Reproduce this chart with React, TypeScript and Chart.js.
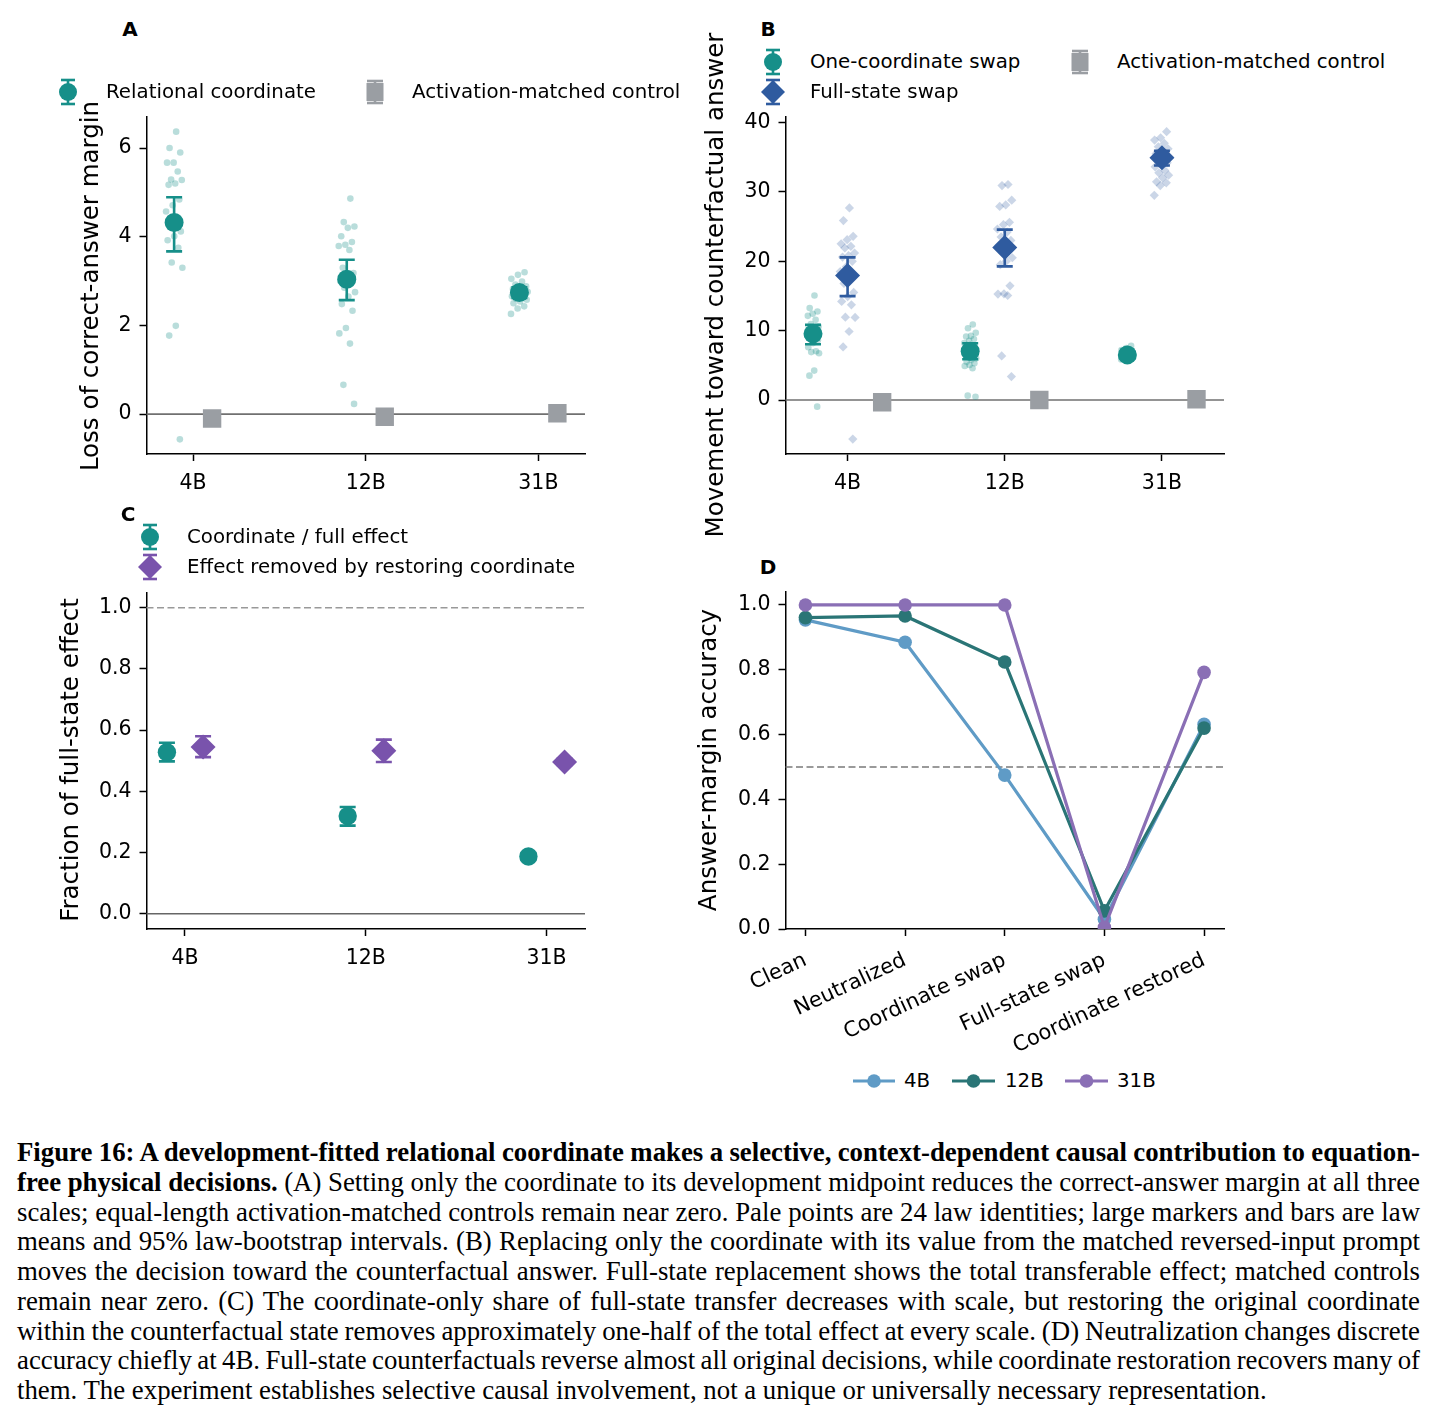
import React, { useEffect, useLayoutEffect, useRef } from 'react';
import { Chart, registerables } from 'chart.js';

Chart.register(...registerables);

// ---------------- data ----------------
const modelScales = ['4B', '12B', '31B'];
const conditionsD = ['Clean', 'Neutralized', 'Coordinate swap', 'Full-state swap', 'Coordinate restored'];

// Panel A: loss of correct-answer margin (24 law identities per scale)
const aRelational4B = [6.37, 6.0, 5.9, 5.67, 5.67, 5.47, 5.29, 5.28, 5.2, 5.17, 4.84, 4.71, 4.57, 4.45, 4.3, 4.12, 4.01, 3.92, 3.75, 3.42, 3.3, 1.99, 1.77, -0.57];
const aRelational12B = [4.86, 4.33, 4.23, 4.2, 4.01, 3.88, 3.82, 3.79, 3.7, 3.3, 3.18, 3.1, 3.0, 2.95, 2.85, 2.75, 2.65, 2.48, 2.33, 1.94, 1.82, 1.59, 0.66, 0.23];
const aRelational31B = [3.2, 3.14, 3.05, 2.99, 2.92, 2.88, 2.85, 2.82, 2.8, 2.78, 2.76, 2.74, 2.72, 2.7, 2.68, 2.66, 2.64, 2.6, 2.58, 2.54, 2.5, 2.43, 2.38, 2.26];
const aRelationalMean = [4.32, 3.04, 2.74];
const aRelationalLow = [3.67, 2.57, 2.62];
const aRelationalHigh = [4.89, 3.48, 2.86];
const aControlMean = [-0.1, -0.06, 0.02];
const aControlLow = [-0.14, -0.1, -0.01];
const aControlHigh = [-0.06, -0.02, 0.05];
const aYTicks = [0, 2, 4, 6];

// Panel B: movement toward counterfactual answer
const bOneCoord4B = [15.06, 13.24, 12.75, 12.42, 12.13, 11.55, 10.93, 10.6, 10.3, 10.0, 9.8, 9.5, 9.3, 9.1, 8.9, 8.6, 8.2, 7.6, 7.03, 6.9, 6.74, 4.24, 3.51, -0.96];
const bOneCoord12B = [10.88, 10.35, 9.7, 9.24, 9.15, 8.8, 8.52, 8.2, 7.9, 7.6, 7.3, 7.0, 6.8, 6.6, 6.3, 6.0, 5.8, 5.5, 5.29, 5.05, 4.9, 4.57, 0.63, 0.48];
const bOneCoord31B = [7.8, 7.5, 7.2, 7.0, 6.9, 6.8, 6.7, 6.6, 6.6, 6.55, 6.5, 6.45, 6.4, 6.35, 6.3, 6.25, 6.2, 6.15, 6.1, 6.05, 6.0, 5.95, 5.9, 5.85];
const bFullState4B = [27.68, 25.85, 23.59, 23.1, 22.5, 22.14, 21.9, 21.18, 20.8, 20.6, 19.98, 19.2, 18.5, 17.6, 16.8, 15.5, 14.9, 14.2, 13.72, 11.94, 11.9, 9.87, 7.65, -5.63];
const bFullState12B = [31.05, 30.9, 28.79, 28.11, 27.9, 25.6, 25.27, 24.64, 24.2, 23.5, 23.0, 22.6, 22.3, 21.8, 21.18, 20.5, 20.0, 19.5, 16.46, 15.3, 15.26, 15.06, 6.35, 3.37];
const bFullState31B = [38.66, 37.79, 37.45, 37.0, 36.49, 36.2, 35.86, 35.5, 35.3, 35.2, 35.0, 34.8, 34.5, 34.18, 34.0, 33.6, 33.07, 32.73, 32.4, 32.01, 31.44, 31.29, 30.9, 29.5];
const bOneCoordMean = [9.53, 7.03, 6.5];
const bOneCoordLow = [8.04, 5.87, 6.05];
const bOneCoordHigh = [10.83, 8.18, 6.95];
const bFullStateMean = [17.95, 21.99, 34.9];
const bFullStateLow = [14.97, 19.25, 33.8];
const bFullStateHigh = [20.55, 24.55, 35.9];
const bControlMean = [-0.33, 0.0, 0.1];
const bControlLow = [-0.6, -0.25, -0.15];
const bControlHigh = [-0.06, 0.25, 0.35];
const bYTicks = [0, 10, 20, 30, 40];

// Panel C: fraction of full-state effect
const cCoordFullMean = [0.528, 0.319, 0.187];
const cCoordFullLow = [0.498, 0.288, 0.176];
const cCoordFullHigh = [0.559, 0.349, 0.198];
const cRestoreMean = [0.545, 0.533, 0.496];
const cRestoreLow = [0.512, 0.496, 0.486];
const cRestoreHigh = [0.58, 0.569, 0.506];
const cYTicks = [0, 0.2, 0.4, 0.6, 0.8, 1.0];

// Panel D: answer-margin accuracy
const dAcc4B = [0.954, 0.885, 0.475, 0.03, 0.632];
const dAcc12B = [0.961, 0.966, 0.824, 0.056, 0.62];
const dAcc31B = [1.0, 1.0, 1.0, 0.005, 0.792];
const dYTicks = [0, 0.2, 0.4, 0.6, 0.8, 1.0];

// ---------------- styles ----------------
const FONT = "'DejaVu Sans', 'Noto Sans', sans-serif";
const TICK_FS = 20.5;
const LEGEND_FS = 19.8;
const TITLE_FS = 24.5;
const TEAL = '#168f89';
const TEAL_PALE = 'rgba(22,143,137,0.30)';
const GRAY = '#9a9ea3';
const BLUE = '#2f5b9f';
const BLUE_PALE = 'rgba(47,91,159,0.25)';
const PURPLE = '#7953ac';
const D4 = '#5f9bc6';
const D12 = '#2a7576';
const D31 = '#8a6fb5';

const tickFont = { family: FONT, size: TICK_FS, lineHeight: 1.2 };
const dTickFont = { family: FONT, size: 21, lineHeight: 1.2 };

// deterministic horizontal spread for strip points
const spread = (i: number, amp: number) => ((((i + 1) * 0.6180339887) % 1) - 0.5) * 2 * amp;

function stripPoints(groups: number[][], offset: number, amp: number) {
  const pts: { x: number; y: number }[] = [];
  groups.forEach((vals, g) => vals.forEach((v, i) => pts.push({ x: g + offset + spread(i + g * 5, amp), y: v })));
  return pts;
}
function meanPoints(vals: number[], offset: number) {
  return vals.map((v, g) => ({ x: g + offset, y: v }));
}

const errorBarPlugin = {
  id: 'errorBars',
  beforeDatasetDraw(chart: any, args: any) {
    const ds = chart.data.datasets[args.index];
    if (!ds.errLow) return;
    const { ctx } = chart;
    const x = chart.scales.x;
    const y = chart.scales.y;
    ctx.save();
    ctx.strokeStyle = ds.errColor;
    ctx.lineWidth = ds.errWidth || 2.5;
    const cap = ds.errCap || 8;
    ds.data.forEach((p: any, i: number) => {
      const px = x.getPixelForValue(p.x);
      const y1 = y.getPixelForValue(ds.errLow[i]);
      const y2 = y.getPixelForValue(ds.errHigh[i]);
      ctx.beginPath();
      ctx.moveTo(px, y1);
      ctx.lineTo(px, y2);
      ctx.moveTo(px - cap, y1);
      ctx.lineTo(px + cap, y1);
      ctx.moveTo(px - cap, y2);
      ctx.lineTo(px + cap, y2);
      ctx.stroke();
    });
    ctx.restore();
  },
};

const refLinePlugin = {
  id: 'refLines',
  beforeDatasetsDraw(chart: any, _args: any, opts: any) {
    const lines = (opts && opts.lines) || [];
    const { ctx, chartArea } = chart;
    const y = chart.scales.y;
    lines.forEach((l: any) => {
      const py = y.getPixelForValue(l.value);
      ctx.save();
      ctx.strokeStyle = l.color;
      ctx.lineWidth = l.width;
      ctx.setLineDash(l.dash || []);
      ctx.beginPath();
      ctx.moveTo(chartArea.left, py);
      ctx.lineTo(chartArea.right, py);
      ctx.stroke();
      ctx.restore();
    });
  },
};

function xAxis(min: number, max: number, labels: string[], height: number, rotation = 0, font: any = tickFont, pad = 10) {
  return {
    type: 'linear',
    position: 'bottom',
    min,
    max,
    afterBuildTicks: (s: any) => {
      s.ticks = labels.map((_l, i) => ({ value: i }));
    },
    afterFit: (s: any) => {
      s.height = height;
      s.paddingLeft = 0;
      s.paddingRight = 0;
      s.paddingTop = 0;
      s.paddingBottom = 0;
    },
    ticks: {
      callback: (_v: any, i: number) => labels[i],
      font,
      color: '#000',
      padding: pad,
      autoSkip: false,
      minRotation: rotation,
      maxRotation: rotation,
    },
    grid: { drawOnChartArea: false, drawTicks: true, tickLength: 7, tickWidth: 1.5, tickColor: '#000' },
    border: { display: true, color: '#000', width: 1.5 },
  };
}

function yAxis(min: number, max: number, ticks: number[], fmt: (v: number) => string, width: number) {
  return {
    type: 'linear',
    position: 'left',
    min,
    max,
    afterBuildTicks: (s: any) => {
      s.ticks = ticks.map((v) => ({ value: v }));
    },
    afterFit: (s: any) => {
      s.width = width;
      s.paddingLeft = 0;
      s.paddingRight = 0;
      s.paddingTop = 0;
      s.paddingBottom = 0;
    },
    ticks: { callback: (v: any) => fmt(Number(v)), font: tickFont, color: '#000', padding: 8 },
    grid: { drawOnChartArea: false, drawTicks: true, tickLength: 7, tickWidth: 1.5, tickColor: '#000' },
    border: { display: true, color: '#000', width: 1.5 },
  };
}

function baseOptions(padding: any, scales: any, lines: any[]) {
  return {
    responsive: false,
    animation: false,
    devicePixelRatio: 1,
    layout: { padding },
    plugins: { legend: { display: false }, tooltip: { enabled: false }, refLines: { lines } },
    scales,
    events: [],
  };
}

function configA() {
  return {
    type: 'scatter',
    data: {
      datasets: [
        { data: stripPoints([aRelational4B, aRelational12B, aRelational31B], -0.11, 0.05), backgroundColor: TEAL_PALE, pointRadius: 3.3, pointBorderWidth: 0, order: 10 },
        { data: meanPoints(aRelationalMean, -0.11), backgroundColor: TEAL, pointRadius: 9.5, pointBorderWidth: 0, order: 2, errLow: aRelationalLow, errHigh: aRelationalHigh, errColor: TEAL, errWidth: 2.6, errCap: 8 },
        { data: meanPoints(aControlMean, 0.11), backgroundColor: GRAY, pointStyle: 'rect', pointRadius: 13, pointBorderWidth: 0, order: 1, errLow: aControlLow, errHigh: aControlHigh, errColor: GRAY, errWidth: 2.6, errCap: 8 },
      ],
    },
    options: baseOptions(
      { left: 0, right: 15, top: 17, bottom: 0 },
      {
        x: xAxis(-0.27, 2.27, modelScales, 66),
        y: yAxis(-0.9, 6.7, aYTicks, (v) => String(v), 146.5),
      },
      [{ value: 0, color: '#707070', width: 1.6 }]
    ),
    plugins: [errorBarPlugin, refLinePlugin],
  };
}

function configB() {
  return {
    type: 'scatter',
    data: {
      datasets: [
        { data: stripPoints([bOneCoord4B, bOneCoord12B, bOneCoord31B], -0.22, 0.04), backgroundColor: TEAL_PALE, pointRadius: 3.3, pointBorderWidth: 0, order: 10 },
        { data: stripPoints([bFullState4B, bFullState12B, bFullState31B], 0, 0.05), backgroundColor: BLUE_PALE, pointStyle: 'rectRot', pointRadius: 4.6, pointBorderWidth: 0, order: 9 },
        { data: meanPoints(bOneCoordMean, -0.22), backgroundColor: TEAL, pointRadius: 9.5, pointBorderWidth: 0, order: 3, errLow: bOneCoordLow, errHigh: bOneCoordHigh, errColor: TEAL, errWidth: 2.6, errCap: 8 },
        { data: meanPoints(bFullStateMean, 0), backgroundColor: BLUE, pointStyle: 'rectRot', pointRadius: 12.5, pointBorderWidth: 0, order: 2, errLow: bFullStateLow, errHigh: bFullStateHigh, errColor: BLUE, errWidth: 2.6, errCap: 8 },
        { data: meanPoints(bControlMean, 0.22), backgroundColor: GRAY, pointStyle: 'rect', pointRadius: 13, pointBorderWidth: 0, order: 1, errLow: bControlLow, errHigh: bControlHigh, errColor: GRAY, errWidth: 2.6, errCap: 8 },
      ],
    },
    options: baseOptions(
      { left: 0, right: 16, top: 17, bottom: 0 },
      {
        x: xAxis(-0.395, 2.395, modelScales, 66),
        y: yAxis(-7.78, 40.78, bYTicks, (v) => String(v), 145.5),
      },
      [{ value: 0, color: '#707070', width: 1.6 }]
    ),
    plugins: [errorBarPlugin, refLinePlugin],
  };
}

function configC() {
  return {
    type: 'scatter',
    data: {
      datasets: [
        { data: meanPoints(cCoordFullMean, -0.1), backgroundColor: TEAL, pointRadius: 9.2, pointBorderWidth: 0, order: 2, errLow: cCoordFullLow, errHigh: cCoordFullHigh, errColor: TEAL, errWidth: 2.6, errCap: 8 },
        { data: meanPoints(cRestoreMean, 0.1), backgroundColor: PURPLE, pointStyle: 'rectRot', pointRadius: 12.5, pointBorderWidth: 0, order: 1, errLow: cRestoreLow, errHigh: cRestoreHigh, errColor: PURPLE, errWidth: 2.6, errCap: 8 },
      ],
    },
    options: baseOptions(
      { left: 0, right: 15, top: 12, bottom: 0 },
      {
        x: xAxis(-0.213, 2.213, modelScales, 71),
        y: yAxis(-0.05, 1.05, cYTicks, (v) => v.toFixed(1), 146.5),
      },
      [
        { value: 0, color: '#666666', width: 1.6 },
        { value: 1, color: '#999999', width: 1.6, dash: [7, 3.5] },
      ]
    ),
    plugins: [errorBarPlugin, refLinePlugin],
  };
}

function lineSeries(vals: number[], color: string, order: number) {
  return {
    data: vals.map((v, i) => ({ x: i, y: v })),
    showLine: true,
    borderColor: color,
    borderWidth: 3.2,
    backgroundColor: color,
    pointBackgroundColor: color,
    pointRadius: 6.8,
    pointBorderWidth: 0,
    order,
  };
}

function configD() {
  return {
    type: 'scatter',
    data: {
      datasets: [lineSeries(dAcc4B, D4, 3), lineSeries(dAcc12B, D12, 2), lineSeries(dAcc31B, D31, 1)],
    },
    options: baseOptions(
      { left: 0, right: 16, top: 12, bottom: 0 },
      {
        x: xAxis(-0.2, 4.2, conditionsD, 131, 25, dTickFont, 12),
        y: yAxis(0, 1.04, dYTicks, (v) => v.toFixed(1), 145.5),
      },
      [{ value: 0.5, color: '#7a7a7a', width: 1.6, dash: [7, 3.5] }]
    ),
    plugins: [refLinePlugin],
  };
}

function ChartCanvas({ left, top, width, height, make }: { left: number; top: number; width: number; height: number; make: () => any }) {
  const ref = useRef<HTMLCanvasElement | null>(null);
  useEffect(() => {
    if (!ref.current) return;
    const chart = new Chart(ref.current, make());
    return () => chart.destroy();
  }, []);
  return <canvas ref={ref} width={width} height={height} style={{ position: 'absolute', left, top, width, height }} />;
}

// ---------------- text overlays ----------------
const textStyle: React.CSSProperties = {
  position: 'absolute',
  fontFamily: FONT,
  fontSize: LEGEND_FS,
  color: '#000',
  whiteSpace: 'nowrap',
  height: 24,
  lineHeight: '24px',
};

function AxisTitle({ cx, cy, children }: { cx: number; cy: number; children: any }) {
  return (
    <div
      style={{
        position: 'absolute',
        left: cx - 300,
        top: cy - 15,
        width: 600,
        height: 30,
        lineHeight: '30px',
        textAlign: 'center',
        fontFamily: FONT,
        fontSize: TITLE_FS,
        color: '#000',
        whiteSpace: 'nowrap',
        transform: 'rotate(-90deg)',
        transformOrigin: '50% 50%',
      }}
    >
      {children}
    </div>
  );
}

function Marker({ cx, cy, children, w = 36, h = 36 }: { cx: number; cy: number; children: any; w?: number; h?: number }) {
  return (
    <svg style={{ position: 'absolute', left: cx - w / 2, top: cy - h / 2 }} width={w} height={h} viewBox={`${-w / 2} ${-h / 2} ${w} ${h}`}>
      {children}
    </svg>
  );
}

function ErrCaps({ color, half = 12, cap = 7 }: { color: string; half?: number; cap?: number }) {
  return (
    <g stroke={color} strokeWidth={2.6}>
      <line x1={0} y1={-half} x2={0} y2={half} />
      <line x1={-cap} y1={-half} x2={cap} y2={-half} />
      <line x1={-cap} y1={half} x2={cap} y2={half} />
    </g>
  );
}

function CircleErr({ cx, cy, color }: { cx: number; cy: number; color: string }) {
  return (
    <Marker cx={cx} cy={cy}>
      <ErrCaps color={color} />
      <circle r={9} fill={color} />
    </Marker>
  );
}
function DiamondErr({ cx, cy, color }: { cx: number; cy: number; color: string }) {
  return (
    <Marker cx={cx} cy={cy}>
      <ErrCaps color={color} half={12} />
      <polygon points="-12,0 0,-12 12,0 0,12" fill={color} />
    </Marker>
  );
}
function SquareErr({ cx, cy }: { cx: number; cy: number }) {
  return (
    <Marker cx={cx} cy={cy}>
      <ErrCaps color={GRAY} half={11} cap={8} />
      <rect x={-8.5} y={-9} width={17} height={18} fill={GRAY} />
    </Marker>
  );
}
function LineMarker({ x1, x2, cy, color }: { x1: number; x2: number; cy: number; color: string }) {
  const w = x2 - x1;
  return (
    <svg style={{ position: 'absolute', left: x1, top: cy - 8 }} width={w} height={16}>
      <line x1={0} y1={8} x2={w} y2={8} stroke={color} strokeWidth={3.2} />
      <circle cx={w / 2} cy={8} r={6.8} fill={color} />
    </svg>
  );
}

function Label({ x, cy, children }: { x: number; cy: number; children: any }) {
  return <div style={{ ...textStyle, left: x, top: cy - 12 }}>{children}</div>;
}

function PanelLetter({ cx, cy, children }: { cx: number; cy: number; children: any }) {
  return (
    <div style={{ position: 'absolute', left: cx - 10, top: cy - 12, width: 20, height: 24, lineHeight: '24px', textAlign: 'center', fontFamily: FONT, fontWeight: 'bold', fontSize: 20, color: '#000' }}>
      {children}
    </div>
  );
}

// ---------------- caption ----------------
const CAP_LEFT = 17;
const CAP_WIDTH = 1403;
const capStyle: React.CSSProperties = {
  position: 'absolute',
  left: CAP_LEFT,
  width: CAP_WIDTH,
  height: 30,
  lineHeight: '30px',
  fontFamily: "'Liberation Serif', 'Times New Roman', serif",
  fontSize: 26.8,
  color: '#000',
  whiteSpace: 'nowrap',
  textAlign: 'left',
};

function CapLine({ i, last, children }: { i: number; last?: boolean; children: any }) {
  return (
    <div data-capline={last ? 'last' : 'full'} style={{ ...capStyle, top: 1137 + i * 29.75 }}>
      <span>{children}</span>
    </div>
  );
}

function fitCaption() {
  const lines = document.querySelectorAll('[data-capline]');
  lines.forEach((el) => {
    const div = el as HTMLElement;
    const span = div.firstElementChild as HTMLElement;
    if (!span) return;
    div.style.wordSpacing = '0px';
    const natural = span.getBoundingClientRect().width;
    const spaces = (span.textContent || '').split(' ').length - 1;
    if (spaces <= 0) return;
    let target = CAP_WIDTH;
    if (div.dataset.capline === 'last') {
      // last line keeps natural spacing unless it overflows
      if (natural <= CAP_WIDTH) return;
    }
    div.style.wordSpacing = `${(target - natural) / spaces}px`;
  });
}

export default function App() {
  useLayoutEffect(() => {
    document.body.style.margin = '0';
    document.body.style.background = '#fff';
    fitCaption();
    const fonts: any = (document as any).fonts;
    if (fonts && fonts.ready) fonts.ready.then(() => fitCaption());
  }, []);
  return (
    <div style={{ position: 'absolute', left: 0, top: 0, width: 1440, height: 1421, background: '#fff', overflow: 'hidden' }}>
      <ChartCanvas left={0} top={100} width={600} height={420} make={configA} />
      <ChartCanvas left={640} top={100} width={600} height={420} make={configB} />
      <ChartCanvas left={0} top={580} width={600} height={420} make={configC} />
      <ChartCanvas left={640} top={580} width={600} height={480} make={configD} />

      <AxisTitle cx={90} cy={286}>Loss of correct-answer margin</AxisTitle>
      <AxisTitle cx={715} cy={285}>Movement toward counterfactual answer</AxisTitle>
      <AxisTitle cx={70} cy={760}>Fraction of full-state effect</AxisTitle>
      <AxisTitle cx={708} cy={760}>Answer-margin accuracy</AxisTitle>

      <PanelLetter cx={130} cy={29}>A</PanelLetter>
      <PanelLetter cx={768} cy={29}>B</PanelLetter>
      <PanelLetter cx={128} cy={514}>C</PanelLetter>
      <PanelLetter cx={768} cy={567}>D</PanelLetter>

      {/* Legend A */}
      <CircleErr cx={68} cy={92} color={TEAL} />
      <Label x={106} cy={92}>Relational coordinate</Label>
      <SquareErr cx={375} cy={92} />
      <Label x={412} cy={92}>Activation-matched control</Label>

      {/* Legend B */}
      <CircleErr cx={773} cy={62} color={TEAL} />
      <Label x={810} cy={62}>One-coordinate swap</Label>
      <SquareErr cx={1080} cy={62} />
      <Label x={1117} cy={62}>Activation-matched control</Label>
      <DiamondErr cx={773} cy={92} color={BLUE} />
      <Label x={810} cy={92}>Full-state swap</Label>

      {/* Legend C */}
      <CircleErr cx={150} cy={537} color={TEAL} />
      <Label x={187} cy={537}>Coordinate / full effect</Label>
      <DiamondErr cx={150} cy={567} color={PURPLE} />
      <Label x={187} cy={567}>Effect removed by restoring coordinate</Label>

      {/* Legend D */}
      <LineMarker x1={853} x2={895} cy={1081} color={D4} />
      <Label x={904} cy={1081}>4B</Label>
      <LineMarker x1={952} x2={995} cy={1081} color={D12} />
      <Label x={1005} cy={1081}>12B</Label>
      <LineMarker x1={1065} x2={1108} cy={1081} color={D31} />
      <Label x={1117} cy={1081}>31B</Label>

      {/* Caption */}
      <CapLine i={0}>
        <b>Figure 16: A development-fitted relational coordinate makes a selective, context-dependent causal contribution to equation-</b>
      </CapLine>
      <CapLine i={1}>
        <b>free physical decisions.</b> (A) Setting only the coordinate to its development midpoint reduces the correct-answer margin at all three
      </CapLine>
      <CapLine i={2}>scales; equal-length activation-matched controls remain near zero. Pale points are 24 law identities; large markers and bars are law</CapLine>
      <CapLine i={3}>means and 95% law-bootstrap intervals. (B) Replacing only the coordinate with its value from the matched reversed-input prompt</CapLine>
      <CapLine i={4}>moves the decision toward the counterfactual answer. Full-state replacement shows the total transferable effect; matched controls</CapLine>
      <CapLine i={5}>remain near zero. (C) The coordinate-only share of full-state transfer decreases with scale, but restoring the original coordinate</CapLine>
      <CapLine i={6}>within the counterfactual state removes approximately one-half of the total effect at every scale. (D) Neutralization changes discrete</CapLine>
      <CapLine i={7}>accuracy chiefly at 4B. Full-state counterfactuals reverse almost all original decisions, while coordinate restoration recovers many of</CapLine>
      <CapLine i={8} last>
        them. The experiment establishes selective causal involvement, not a unique or universally necessary representation.
      </CapLine>
    </div>
  );
}
